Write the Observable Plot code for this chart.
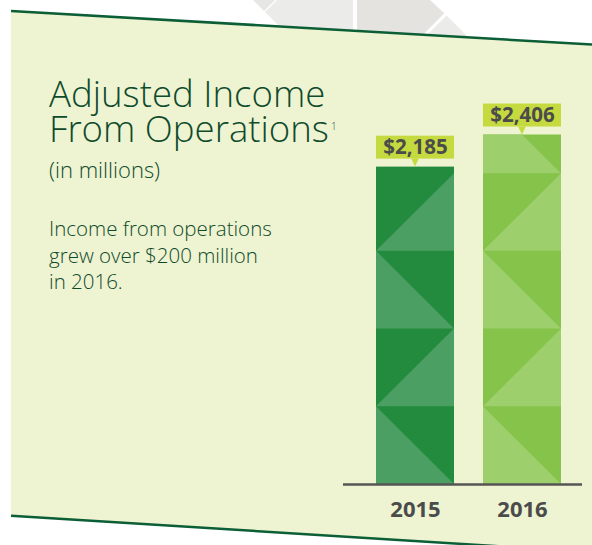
<!DOCTYPE html>
<html>
<head>
<meta charset="utf-8">
<script src="https://cdn.jsdelivr.net/npm/d3@7"></script>
<script src="https://cdn.jsdelivr.net/npm/@observablehq/plot@0.6"></script>
<style>
  html, body { margin: 0; padding: 0; background: #fff; }
  #wrap { position: relative; width: 592px; height: 545px; overflow: hidden; background: #fff; font-family: "Open Sans", sans-serif; }
  #bg, #chart { position: absolute; left: 0; top: 0; }
  #chart svg { display: block; }
  #title { position: absolute; left: 49px; top: 76.05px; margin: 0; font-size: 36.6px; line-height: 34.6px; font-weight: 300; color: #0e4b2c; white-space: nowrap; }
  #title sup { font-size: 10px; vertical-align: 12px; line-height: 0; margin-left: 2px; }
</style>
</head>
<body>
<div id="wrap">
  <svg id="bg" width="592" height="545" viewBox="0 0 592 545">
    <!-- decorative grey tiles above the panel -->
    <polygon points="253,0 275,0 264,11" fill="#e6e6e3"/>
    <polygon points="277,0 353,0 353,50 303,50 265,12" fill="#ebebea"/>
    <polygon points="357,0 430,0 444.3,13.3 408,50 357,50" fill="#e4e3e0"/>
    <polygon points="446.5,15.5 481,50 412,50" fill="#ebebea"/>
    <!-- pale panel -->
    <polygon points="11,11 592,44.5 592,545 479,545 11,515.7" fill="#eef3d1"/>
    <line x1="11" y1="11" x2="592" y2="44.5" stroke="#0b5e35" stroke-width="2.5"/>
    <line x1="11" y1="515.7" x2="600" y2="552.6" stroke="#0b5e35" stroke-width="2.5"/>
    <!-- sub-headline text -->
    <g font-family="'Open Sans', sans-serif" fill="#0e4b2c" font-weight="300">
      <text x="49" y="177.5" font-size="22">(in millions)</text>
      <text x="49" y="235.7" font-size="20.5"><tspan x="49" y="235.7">Income from operations</tspan><tspan x="49" y="262.5">grew over $200 million</tspan><tspan x="49" y="289.2">in 2016.</tspan></text>
    </g>
  </svg>
  <div id="chart"></div>
  <div id="title">Adjusted Income<br>From Operations<sup>1</sup></div>
</div>
<script>
// ---- data ----
const years = ["2015", "2016"];
const values = [2185, 2406];
const darkColors = ["#228b3d", "#86c34a"];
const lightColors = ["#4c9f63", "#9dcf6d"];
const labelColor = "#c5da3e";
const labels = values.map(d3.format("$,"));

// ---- style constants (data units) ----
const TILE = 535;      // height of one square pattern tile
const HALF = 0.3645;   // half bar width on the x scale
const GAP = 55;        // gap between bar top and label box
const BOX = 158;       // label box height
const PTR = 0.036;     // half width of the label pointer
const MIN_PARTIAL = 0.25;

const bars = years.map((year, i) => ({i, year, value: values[i], label: labels[i]}));

function tilePoints(i) {
  const v = values[i], L = i - HALF, R = i + HALF, W = R - L;
  const n = Math.floor(v / TILE);
  const count = (v / TILE - n) > MIN_PARTIAL ? n + 1 : n;
  const pts = [];
  for (let k = 0; k < count; k++) {
    const y0 = k * TILE, full = (k + 1) * TILE, y1 = Math.min(full, v);
    const id = i + "-" + k;
    if (k % 2 === 0) {
      const xc = L + (full - y1) / TILE * W;
      pts.push({id, x: L, b: y0, t: y1});
      pts.push({id, x: xc, b: y0, t: y1});
      pts.push({id, x: R, b: y0, t: y0});
    } else {
      const xc = L + (y1 - y0) / TILE * W;
      pts.push({id, x: L, b: y0, t: y0});
      pts.push({id, x: xc, b: y0, t: y1});
      pts.push({id, x: R, b: y0, t: y1});
    }
  }
  return pts;
}

const pointerPts = bars.flatMap(d => [
  {id: d.i, x: d.i - PTR, b: d.value + GAP, t: d.value + GAP},
  {id: d.i, x: d.i, b: d.value, t: d.value + GAP},
  {id: d.i, x: d.i + PTR, b: d.value + GAP, t: d.value + GAP}
]);

const chart = Plot.plot({
  width: 592,
  height: 545,
  marginLeft: 343,
  marginRight: 10,
  marginTop: 0,
  marginBottom: 61,
  x: {domain: [-0.673, 1.561], axis: null},
  y: {domain: [0, 3332], axis: null},
  color: {type: "identity"},
  style: {background: "transparent", overflow: "visible", fontFamily: "'Open Sans', sans-serif"},
  marks: [
    Plot.rectY(bars, {x1: d => d.i - HALF, x2: d => d.i + HALF, y1: 0, y2: "value", fill: d => darkColors[d.i]}),
    ...years.map((y, i) => Plot.areaY(tilePoints(i), {x: "x", y1: "b", y2: "t", z: "id", fill: lightColors[i]})),
    Plot.rect(bars, {x1: d => d.i - HALF, x2: d => d.i + HALF, y1: d => d.value + GAP, y2: d => d.value + GAP + BOX, fill: labelColor}),
    Plot.areaY(pointerPts, {x: "x", y1: "b", y2: "t", z: "id", fill: labelColor}),
    Plot.text(bars, {x: "i", y: d => d.value + GAP + BOX / 2, text: "label", fontSize: 20.5, fontWeight: "bold", fill: "#4b4b4b", lineAnchor: "middle"}),
    Plot.ruleY([0], {stroke: "#555555", strokeWidth: 2.5}),
    Plot.text(bars, {x: "i", y: 0, text: "year", dy: 25.5, fontSize: 22, fontWeight: "bold", fill: "#4b4b4b", lineAnchor: "middle"})
  ]
});
document.getElementById("chart").appendChild(chart);
</script>
</body>
</html>
